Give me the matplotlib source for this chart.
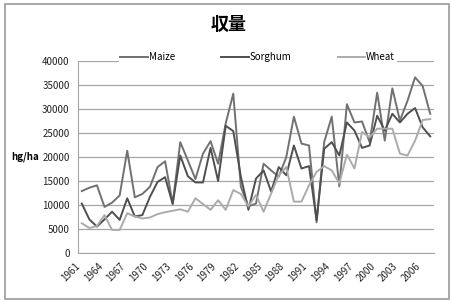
import matplotlib
matplotlib.use("Agg")
import matplotlib.pyplot as plt
import matplotlib.transforms as mtransforms
from matplotlib.patches import Rectangle

plt.rcParams['font.family'] = ['Noto Sans CJK JP', 'DejaVu Sans']

years = list(range(1961, 2008))
maize = [12900, 13600, 14100, 9600, 10500, 12000, 21300, 11600, 12300, 13800,
         17900, 19100, 10300, 23100, 19300, 15400, 20700, 23300, 18600, 27000,
         33200, 13800, 9700, 10300, 18600, 17200, 15900, 20000, 28400, 22800,
         22400, 6400, 23100, 28400, 13900, 31000, 27200, 27400, 23100, 33400,
         23400, 34300, 27600, 31700, 36600, 34800, 29000]
sorghum = [10300, 7000, 5500, 7000, 8600, 6900, 11400, 7600, 7900, 11700,
           14800, 15800, 10200, 20300, 16000, 14700, 14700, 21900, 15000, 26500,
           25400, 15900, 9000, 15500, 17200, 12800, 17900, 16200, 22400, 17600,
           18100, 6800, 21700, 23100, 20300, 27200, 25500, 21900, 22400, 28600,
           25500, 29000, 27200, 29000, 30200, 26200, 24300]
wheat = [6200, 5200, 5600, 7900, 4800, 4800, 8300, 7600, 7200, 7400,
         8100, 8500, 8800, 9100, 8600, 11400, 10200, 9000, 11000, 9000,
         13100, 12300, 9700, 12100, 8600, 12400, 16200, 17900, 10700, 10700,
         14100, 16900, 18100, 17200, 14500, 20500, 17600, 25200, 24100, 25900,
         25900, 25900, 20700, 20300, 23400, 27700, 27900]

fig = plt.figure(figsize=(4.53, 3.02), dpi=100)
ax = fig.add_axes([78 / 453, 1 - 253 / 302, 356 / 453, 192 / 302])

x = range(len(years))
ax.plot(x, maize, color='#717171', lw=1.4, label='Maize')
ax.plot(x, sorghum, color='#4f4f4f', lw=1.4, label='Sorghum')
ax.plot(x, wheat, color='#ababab', lw=1.4, label='Wheat')

ax.set_xlim(-0.5, len(years) - 0.5)
ax.set_ylim(0, 40000)
ax.set_yticks(range(0, 40001, 5000))
ax.yaxis.grid(True, color='#a6a6a6', lw=0.9)
ax.set_axisbelow(True)
for s in ['top', 'right']:
    ax.spines[s].set_visible(False)
for s in ['left', 'bottom']:
    ax.spines[s].set_color('#a6a6a6')
ax.tick_params(length=0, labelsize=7, pad=6, labelcolor='#222222')

tick_idx = list(range(0, len(years), 3))
ax.set_xticks(tick_idx)
ax.set_xticklabels([str(years[i]) for i in tick_idx], rotation=45,
                   ha='right', rotation_mode='anchor')
# nudge the rotated year labels to the left, as in the original
shift = mtransforms.ScaledTranslation(-7 / 100, 0, fig.dpi_scale_trans)
for lab in ax.get_xticklabels():
    lab.set_transform(lab.get_transform() + shift)

fig.text(25 / 453, 1 - 157 / 302, 'hg/ha', fontsize=7, fontweight='bold',
         ha='center', va='center')
fig.text(229 / 453, 1 - 24 / 302, '収量', fontsize=13, fontweight='bold',
         ha='center', va='center')

leg = ax.legend(loc='center', bbox_to_anchor=(0.505, 1.02), ncol=3,
                fontsize=7, frameon=True, fancybox=False, edgecolor='none',
                facecolor='white', framealpha=1, handlelength=2.8,
                handletextpad=0.1, columnspacing=4.8, borderpad=0.2)

fig.patches.append(Rectangle((5 / 453, 3 / 302), 444 / 453, 295 / 302,
                             transform=fig.transFigure, fill=False,
                             edgecolor='#9a9a9a', lw=1.2))

fig.savefig('out.png', dpi=100)
